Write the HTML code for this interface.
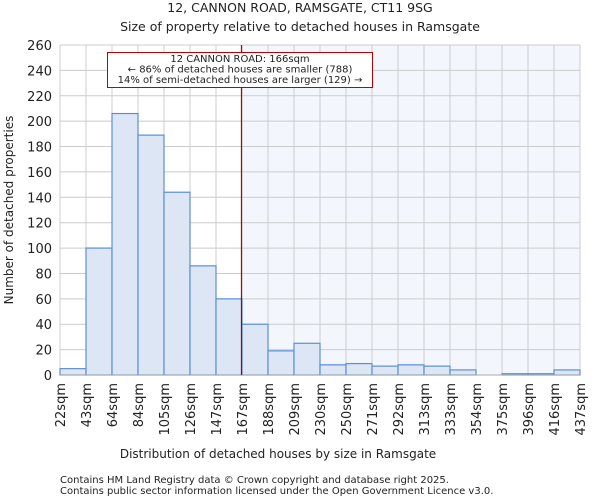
<!DOCTYPE html>
<html><head><meta charset="utf-8"><style>
body{margin:0;background:#fff;font-family:"DejaVu Sans","Liberation Sans",sans-serif;}
svg text{font-family:"DejaVu Sans","Liberation Sans",sans-serif;fill:#222;}
</style></head><body>
<svg id="c" width="600" height="500" xmlns="http://www.w3.org/2000/svg">
<text x="300" y="12" text-anchor="middle" font-size="12.5">12, CANNON ROAD, RAMSGATE, CT11 9SG</text>
<text x="300" y="31" text-anchor="middle" font-size="12.5">Size of property relative to detached houses in Ramsgate</text>
<g id="plot"></g>
<text x="278" y="458" text-anchor="middle" font-size="12">Distribution of detached houses by size in Ramsgate</text>
<text transform="translate(13,210) rotate(-90)" text-anchor="middle" font-size="12">Number of detached properties</text>
<text x="60" y="483" font-size="10" fill="#444">Contains HM Land Registry data © Crown copyright and database right 2025.</text>
<text x="60" y="494" font-size="10" fill="#444">Contains public sector information licensed under the Open Government Licence v3.0.</text>
</svg>
<script>
const categories=["22sqm","43sqm","64sqm","84sqm","105sqm","126sqm","147sqm","167sqm","188sqm","209sqm","230sqm","250sqm","271sqm","292sqm","313sqm","333sqm","354sqm","375sqm","396sqm","416sqm","437sqm"];
const counts=[5,100,206,189,144,86,60,40,19,25,8,9,7,8,7,4,0,1,1,4];
const yTicks=[0,20,40,60,80,100,120,140,160,180,200,220,240,260];
const markerIndex=6.98;
const NS="http://www.w3.org/2000/svg";
const L=60,R=580,T=45,B=375,yMax=260;
const bw=(R-L)/counts.length;
const xs=i=>L+i*bw;
const ys=v=>B-(v/yMax)*(B-T);
const g=document.getElementById('plot');
function mk(t,a){const e=document.createElementNS(NS,t);for(const k in a)e.setAttribute(k,a[k]);g.appendChild(e);return e;}
const mx=xs(markerIndex);
let e=mk('rect',{x:mx,y:T,width:R-mx,height:B-T,fill:'#f3f6fd'});


for(const v of yTicks){
 e=mk('line',{x1:L,x2:R,y1:ys(v),y2:ys(v),stroke:'#ccc','stroke-width':1});
 
 
 e=mk('text',{x:L-8,y:ys(v)+5,'text-anchor':'end','font-size':13});
 e.textContent=v;
 
 
}
categories.forEach((c,i)=>{
 e=mk('line',{x1:xs(i),x2:xs(i),y1:T,y2:B,stroke:'#ccc','stroke-width':1});
 
 
 e=mk('text',{transform:`translate(${xs(i)+5},${B+8}) rotate(-90)`,'text-anchor':'end','font-size':13});
 e.textContent=c;
 
 
});
counts.forEach((v,i)=>{
 e=mk('rect',{x:xs(i),y:ys(v),width:bw,height:B-ys(v),fill:'#dce6f4',stroke:'#5b8fd4','stroke-width':1.2});
 
 
});
e=mk('line',{x1:L,x2:R,y1:B,y2:B,stroke:'#aaa','stroke-width':1});


e=mk('line',{x1:mx,x2:mx,y1:T,y2:B,stroke:'#b00000','stroke-width':1.2});


e=mk('rect',{x:107.5,y:52.5,width:265,height:35,fill:'#fff',stroke:'#c00000','stroke-width':1});


const lines=["12 CANNON ROAD: 166sqm","← 86% of detached houses are smaller (788)","14% of semi-detached houses are larger (129) →"];
lines.forEach((t,i)=>{
 e=mk('text',{x:240,y:62+i*10.5,'text-anchor':'middle','font-size':10});
 e.textContent=t;
 
 
});
</script>
</body></html>
